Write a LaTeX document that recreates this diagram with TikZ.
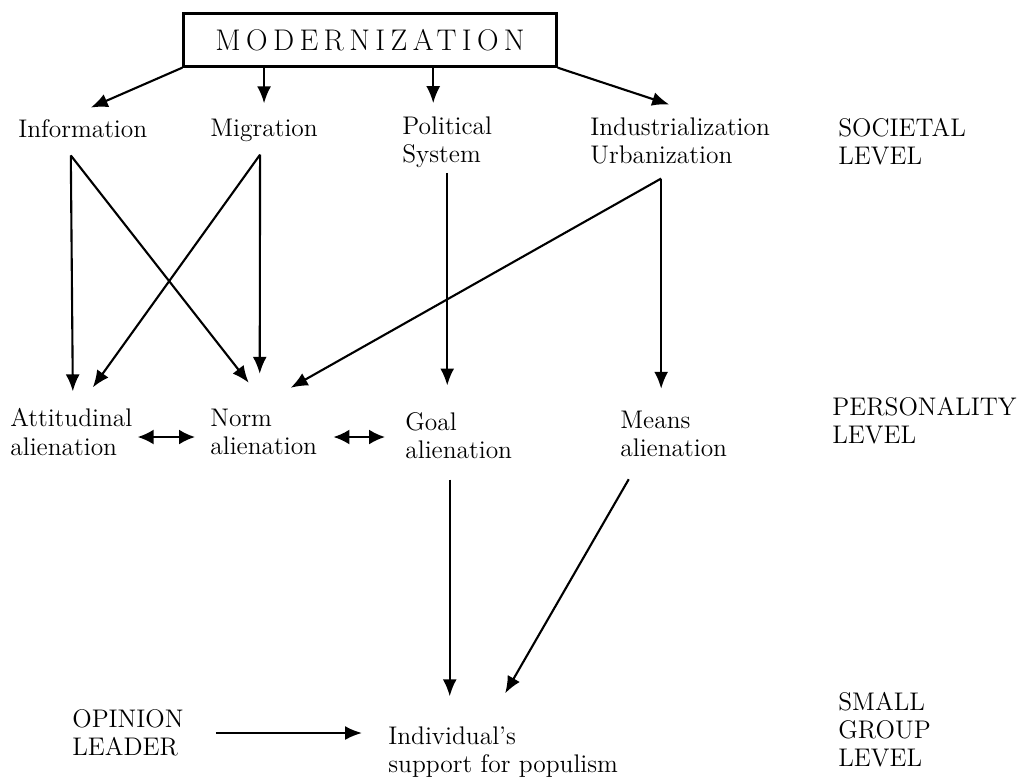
\documentclass[tikz,border=0pt]{standalone}
\usepackage{fontspec}
\usepackage{tikz}
\usetikzlibrary{arrows.meta}
\newfontfamily\spacedcaps{Latin Modern Roman}[LetterSpace=18]

\begin{document}
\begin{tikzpicture}[x=0.02cm,y=-0.02cm,
  txt/.style={inner sep=0pt,anchor=west,align=left,font=\fontsize{14.5}{16}\selectfont},
  flow/.style={line width=1.2pt,-{Latex[length=3.4mm,width=2.8mm]}},
  twoway/.style={line width=1.2pt,{Latex[length=3.2mm,width=3mm]}-{Latex[length=3.2mm,width=3mm]}}]
\useasboundingbox (0,0) rectangle (1023,778);
% top box
\node[draw,line width=1.3pt,minimum width=7.46cm,minimum height=1.06cm,
  font=\spacedcaps\fontsize{17}{20}\selectfont] (modern) at (370,40) {MODERNIZATION};
% societal level
\node[txt] (info) at (18,129) {Information};
\node[txt] (migr) at (210,130) {Migration};
\node[txt] (polit) at (402,142) {Political\\System};
\node[txt] (indus) at (590,141) {Industrialization\\Urbanization};
\node[txt] (soc) at (838,142) {SOCIETAL\\LEVEL};
% personality level
\node[txt] (att) at (10,432) {Attitudinal\\alienation};
\node[txt] (norm) at (210,432) {Norm\\alienation};
\node[txt] (goal) at (405,436) {Goal\\alienation};
\node[txt] (means) at (620,434) {Means\\alienation};
\node[txt] (pers) at (832,421) {PERSONALITY\\LEVEL};
% small group level
\node[txt] (opin) at (72,733) {OPINION\\LEADER};
\node[txt] (indiv) at (388,752) {Individual's\\support for populism};
\node[txt] (small) at (838,730) {SMALL\\GROUP\\LEVEL};
% split points
\coordinate (infoFoot) at ([xshift=-0.24cm,yshift=-0.34cm]info.south);
\coordinate (migrFoot) at ([xshift=-0.08cm,yshift=-0.26cm]migr.south);
\coordinate (indusFoot) at ([xshift=-0.38cm,yshift=-0.28cm]indus.south);
% from the box
\draw[flow] (modern.south west) -- ([xshift=0.16cm,yshift=0.24cm]info.north);
\draw[flow] (modern.south -| migr.north) -- ([yshift=0.3cm]migr.north);
\draw[flow] ([xshift=-0.28cm]polit.north |- modern.south) -- ([xshift=-0.28cm,yshift=0.26cm]polit.north);
\draw[flow] (modern.south east) -- ([xshift=-0.22cm,yshift=0.26cm]indus.north);
% societal to personality
\draw[flow] (infoFoot) -- ([xshift=0.03cm,yshift=0.34cm]att.north);
\draw[flow] (infoFoot) -- ([xshift=-0.3cm,yshift=0.52cm]norm.north);
\draw[flow] (migrFoot) -- ([xshift=0.43cm,yshift=0.42cm]att.north);
\draw[flow] (migrFoot) -- ([xshift=-0.08cm,yshift=0.7cm]norm.north);
\draw[flow] ([yshift=-0.1cm]polit.south) -- ([yshift=0.54cm]polit.south |- goal.north);
\draw[flow] (indusFoot) -- ([xshift=0.54cm,yshift=0.42cm]norm.north);
\draw[flow] (indusFoot) -- ([yshift=0.44cm]indusFoot |- means.north);
% within personality level
\draw[twoway] ([xshift=0.1cm,yshift=-0.1cm]att.east) -- ([xshift=-0.3cm,yshift=-0.1cm]norm.west);
\draw[twoway] ([xshift=0.32cm,yshift=-0.1cm]norm.east) -- ([xshift=-0.4cm,yshift=-0.1cm]norm.east -| goal.west);
% personality to small group
\draw[flow] ([xshift=-0.18cm,yshift=-0.4cm]goal.south) -- ([xshift=-0.18cm,yshift=0.6cm]goal.south |- indiv.north);
\draw[flow] ([xshift=-0.9cm,yshift=-0.44cm]means.south) -- ([xshift=0.04cm,yshift=0.66cm]indiv.north);
\draw[flow] ([xshift=0.64cm]opin.east) -- ([xshift=-0.52cm]opin.east -| indiv.west);
\end{tikzpicture}
\end{document}
